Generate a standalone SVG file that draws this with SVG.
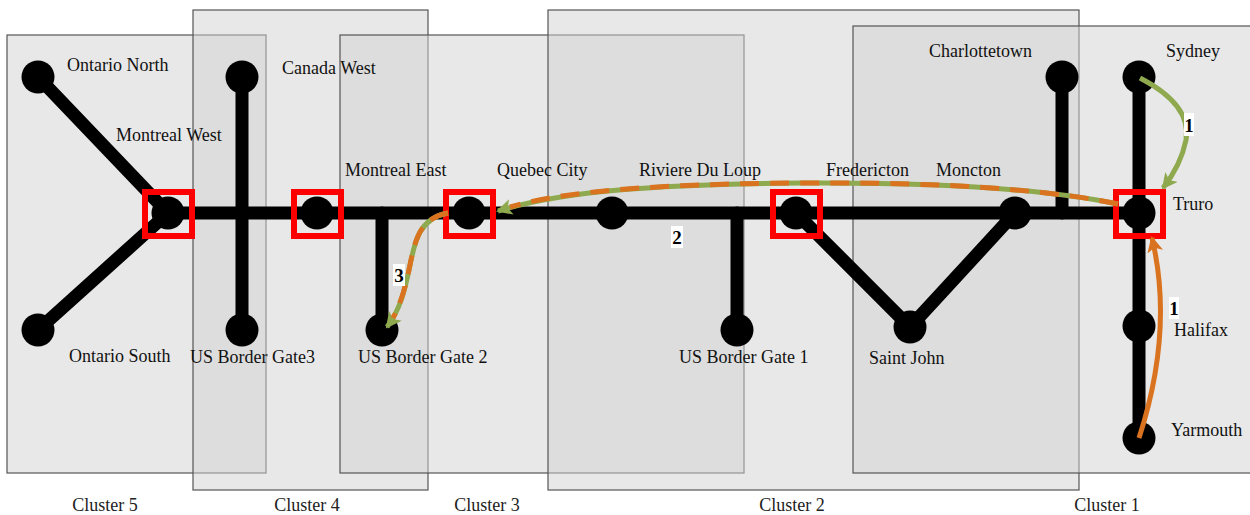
<svg xmlns="http://www.w3.org/2000/svg" width="1250" height="515" viewBox="0 0 1250 515">
  <style>
    .cluster { fill: #d2d2d2; fill-opacity: 0.5; stroke: #555; stroke-width: 1.2; }
    .track { stroke: #000; stroke-width: 13; fill: none; stroke-linecap: round; }
    .stop { fill: #000; }
    .hub { fill: none; stroke: #ff0000; stroke-width: 6; }
    .lbl { font-family: "Liberation Serif", "Times New Roman", serif; font-size: 18px; fill: #111; }
    .clbl { font-family: "Liberation Serif", "Times New Roman", serif; font-size: 18px; fill: #222; text-anchor: middle; }
    .num { font-family: "Liberation Serif", "Times New Roman", serif; font-size: 19px; font-weight: bold; fill: #000; text-anchor: middle; }
    .numbg { fill: #fff; }
    .green { stroke: #8fa94f; stroke-width: 5; fill: none; }
    .orange { stroke: #d9731f; stroke-width: 5; fill: none; }
    .dash { stroke: #d9731f; stroke-width: 5; fill: none; stroke-dasharray: 19 11; }
  </style>
  <defs>
    <marker id="arrowGreen" markerUnits="userSpaceOnUse" markerWidth="18" markerHeight="16" refX="14" refY="8" orient="auto">
      <path d="M0,0 L16,8 L0,16 L4,8 Z" fill="#8fa94f"/>
    </marker>
    <marker id="arrowOrange" markerUnits="userSpaceOnUse" markerWidth="18" markerHeight="16" refX="14" refY="8" orient="auto">
      <path d="M0,0 L16,8 L0,16 L4,8 Z" fill="#d9731f"/>
    </marker>
  </defs>

  <rect width="1250" height="515" fill="#fff"/>

  <!-- cluster regions -->
  <g id="clusters">
    <rect class="cluster" x="7" y="35" width="259" height="438"/>
    <rect class="cluster" x="193" y="10" width="235" height="480"/>
    <rect class="cluster" x="340" y="35" width="404" height="438"/>
    <rect class="cluster" x="548" y="10" width="531" height="480"/>
    <rect class="cluster" x="853" y="26" width="410" height="447"/>
    <text class="clbl" x="105" y="511">Cluster 5</text>
    <text class="clbl" x="307" y="511">Cluster 4</text>
    <text class="clbl" x="487" y="511">Cluster 3</text>
    <text class="clbl" x="792" y="511">Cluster 2</text>
    <text class="clbl" x="1107" y="511">Cluster 1</text>
  </g>

  <!-- rail links -->
  <g id="connectors">
    <line class="track" x1="38" y1="77" x2="168" y2="213"/>
    <line class="track" x1="38" y1="330" x2="168" y2="213"/>
    <line class="track" x1="168" y1="213" x2="1139" y2="213"/>
    <line class="track" x1="242" y1="77" x2="242" y2="330"/>
    <line class="track" x1="382" y1="213" x2="382" y2="330"/>
    <line class="track" x1="737" y1="213" x2="737" y2="330"/>
    <polyline class="track" points="796,213 910,327 1015,213"/>
    <line class="track" x1="1062" y1="77" x2="1062" y2="213"/>
    <line class="track" x1="1139" y1="77" x2="1139" y2="438"/>
  </g>

  <!-- stations -->
  <g id="ontario-north"><circle class="stop" cx="38" cy="77" r="16.5"/><text class="lbl" x="67" y="71">Ontario North</text></g>
  <g id="ontario-south"><circle class="stop" cx="38" cy="330" r="16.5"/><text class="lbl" x="69" y="362">Ontario South</text></g>
  <g id="montreal-west"><circle class="stop" cx="168" cy="213" r="16.5"/><text class="lbl" x="116" y="141">Montreal West</text></g>
  <g id="canada-west"><circle class="stop" cx="242" cy="77" r="16.5"/><text class="lbl" x="282" y="74">Canada West</text></g>
  <g id="us-border-gate3"><circle class="stop" cx="242" cy="330" r="16.5"/><text class="lbl" x="190" y="363">US Border Gate3</text></g>
  <g id="montreal-east"><circle class="stop" cx="317" cy="213" r="16.5"/><text class="lbl" x="345" y="176">Montreal East</text></g>
  <g id="us-border-gate-2"><circle class="stop" cx="382" cy="330" r="16.5"/><text class="lbl" x="358" y="363">US Border Gate 2</text></g>
  <g id="quebec-city"><circle class="stop" cx="469" cy="213" r="16.5"/><text class="lbl" x="497" y="176">Quebec City</text></g>
  <g id="riviere-du-loup"><circle class="stop" cx="612" cy="213" r="16.5"/><text class="lbl" x="639" y="176">Riviere Du Loup</text></g>
  <g id="us-border-gate-1"><circle class="stop" cx="737" cy="330" r="16.5"/><text class="lbl" x="679" y="363">US Border Gate 1</text></g>
  <g id="fredericton"><circle class="stop" cx="796" cy="213" r="16.5"/><text class="lbl" x="826" y="176">Fredericton</text></g>
  <g id="saint-john"><circle class="stop" cx="910" cy="327" r="16.5"/><text class="lbl" x="869" y="364">Saint John</text></g>
  <g id="moncton"><circle class="stop" cx="1015" cy="213" r="16.5"/><text class="lbl" x="936" y="176">Moncton</text></g>
  <g id="charlottetown"><circle class="stop" cx="1062" cy="77" r="16.5"/><text class="lbl" x="929" y="57">Charlottetown</text></g>
  <g id="sydney"><circle class="stop" cx="1139" cy="77" r="16.5"/><text class="lbl" x="1166" y="57">Sydney</text></g>
  <g id="truro"><circle class="stop" cx="1139" cy="213" r="16.5"/><text class="lbl" x="1173" y="210">Truro</text></g>
  <g id="halifax"><circle class="stop" cx="1139" cy="326" r="16.5"/><text class="lbl" x="1174" y="336">Halifax</text></g>
  <g id="yarmouth"><circle class="stop" cx="1139" cy="438" r="16.5"/><text class="lbl" x="1171" y="436">Yarmouth</text></g>

  <!-- hub markers -->
  <g id="hubs">
    <rect class="hub" x="145" y="192" width="47" height="44"/>
    <rect class="hub" x="294" y="192" width="47" height="44"/>
    <rect class="hub" x="446" y="192" width="47" height="44"/>
    <rect class="hub" x="773" y="192" width="47" height="44"/>
    <rect class="hub" x="1116" y="192" width="47" height="44"/>
  </g>

  <!-- routes -->
  <g id="routes">
    <path class="green" d="M1140,78 Q1192,105 1186,140 Q1181,165 1163,188" marker-end="url(#arrowGreen)"/>
    <path class="orange" d="M1139,438 Q1174,330 1152,238" marker-end="url(#arrowOrange)"/>
    <path class="green" d="M1118,204 C1050,190 950,182 800,183 C650,184 560,192 498,211" marker-end="url(#arrowGreen)"/>
    <path class="dash" d="M1118,204 C1050,190 950,182 800,183 C650,184 560,192 510,207"/>
    <path class="green" d="M448,213 C420,218 415,240 410,265 C405,290 400,310 387,327" marker-end="url(#arrowGreen)"/>
    <path class="dash" d="M448,213 C420,218 415,240 410,265 C405,290 400,305 393,318"/>
  </g>

  <!-- route numbers -->
  <g id="route-labels">
    <rect class="numbg" x="1184" y="113" width="10" height="23"/>
    <text class="num" x="1189" y="132">1</text>
    <rect class="numbg" x="1169" y="297" width="10" height="22"/>
    <text class="num" x="1174" y="315">1</text>
    <rect class="numbg" x="671" y="226" width="12" height="22"/>
    <text class="num" x="677" y="244">2</text>
    <rect class="numbg" x="393" y="264" width="12" height="22"/>
    <text class="num" x="399" y="282">3</text>
  </g>
</svg>
